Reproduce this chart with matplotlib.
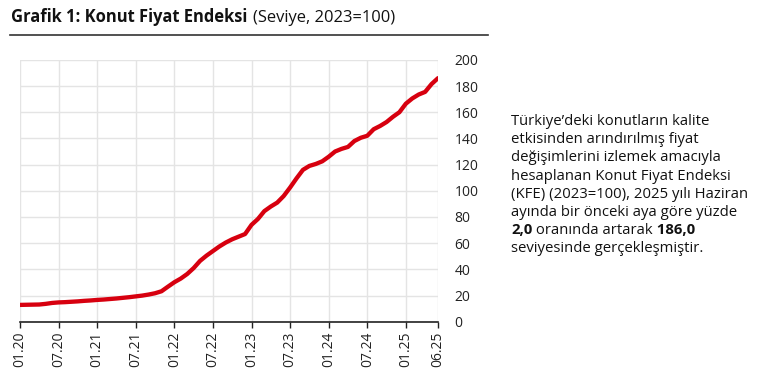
import numpy as np
import matplotlib
matplotlib.use("Agg")
import matplotlib.pyplot as plt

plt.rcParams['font.family'] = ['Open Sans', 'DejaVu Sans']

# Konut Fiyat Endeksi, monthly, 01.2020 - 06.2025 (2023=100)
kfe = [12.9, 13.0, 13.1, 13.2, 13.7, 14.4, 14.8, 15.0, 15.3, 15.6, 16.0, 16.3,
       16.7, 17.0, 17.4, 17.8, 18.3, 18.8, 19.4, 20.0, 20.8, 21.8, 23.3, 26.8,
       30.2, 33.0, 36.5, 41.0, 46.5, 50.5, 54.0, 57.5, 60.5, 63.0, 65.0, 67.0,
       74.0, 78.5, 84.5, 88.0, 91.0, 96.0, 102.5, 109.5, 116.0, 119.0, 120.5, 122.5,
       126.0, 130.0, 132.0, 133.5, 138.0, 140.5, 142.0, 147.0, 149.5, 152.5, 156.5, 160.0,
       166.5, 170.5, 173.5, 175.5, 181.5, 186.0]
tick_pos = [0, 6, 12, 18, 24, 30, 36, 42, 48, 54, 60, 65]
tick_labels = ['01.20', '07.20', '01.21', '07.21', '01.22', '07.22', '01.23',
               '07.23', '01.24', '07.24', '01.25', '06.25']
y_ticks = list(range(0, 201, 20))

W, H = 757, 373
fig = plt.figure(figsize=(W / 100, H / 100), dpi=100)
ax = fig.add_axes([20 / W, 1 - 321.8 / H, 418 / W, 262 / H])

months = np.arange(len(kfe))
ax.plot(months, kfe, color='#d7000f', lw=3.1, solid_capstyle='round', zorder=3)

ax.set_xlim(0, 65)
ax.set_ylim(0, 200)
ax.set_xticks(tick_pos)
ax.set_xticklabels(tick_labels, rotation=90, fontsize=10, color='#222222')
ax.set_yticks(y_ticks)
ax.yaxis.tick_right()
ax.tick_params(axis='y', length=0, pad=12, labelsize=10, labelcolor='#222222')
ax.tick_params(axis='x', length=4, width=1, color='#222222', pad=3)
for lbl in ax.get_yticklabels():
    lbl.set_horizontalalignment('left')
ax.grid(True, color='#e4e4e4', lw=1)
ax.set_axisbelow(True)
for s in ['top', 'right', 'left']:
    ax.spines[s].set_visible(False)
ax.spines['bottom'].set_color('#222222')
ax.spines['bottom'].set_linewidth(1.2)

# title with bold and normal parts
fig.canvas.draw()
r = fig.canvas.get_renderer()
t1 = fig.text(11 / W, 1 - 21.7 / H, 'Grafik 1: Konut Fiyat Endeksi', fontsize=11.9,
              fontweight='bold', va='baseline', color='#111111')
bb = t1.get_window_extent(renderer=r)
fig.text((bb.x1 + 6) / W, 1 - 21.7 / H, '(Seviye, 2023=100)', fontsize=11.9,
         va='baseline', color='#111111')
fig.add_artist(plt.Line2D([10 / W, 488 / W], [1 - 35 / H, 1 - 35 / H],
                          color='#333333', lw=1.2))

# side note
lines = [
    'Türkiye’deki konutların kalite',
    'etkisinden arındırılmış fiyat',
    'değişimlerini izlemek amacıyla',
    'hesaplanan Konut Fiyat Endeksi',
    '(KFE) (2023=100), 2025 yılı Haziran',
    'ayında bir önceki aya göre yüzde',
    None,
    'seviyesinde gerçekleşmiştir.',
]
x0 = 511
for i, line in enumerate(lines):
    yb = 1 - (125 + i * 18.2) / H
    if line is not None:
        fig.text(x0 / W, yb, line, fontsize=10.7, va='baseline', color='#111111')
    else:
        x = x0
        for part, wt in [('2,0', 'bold'), (' oranında artarak', 'normal'), (' 186,0', 'bold')]:
            t = fig.text(x / W, yb, part, fontsize=10.7, fontweight=wt, va='baseline',
                         color='#111111')
            x = t.get_window_extent(renderer=r).x1

fig.savefig('out.png', dpi=100)
